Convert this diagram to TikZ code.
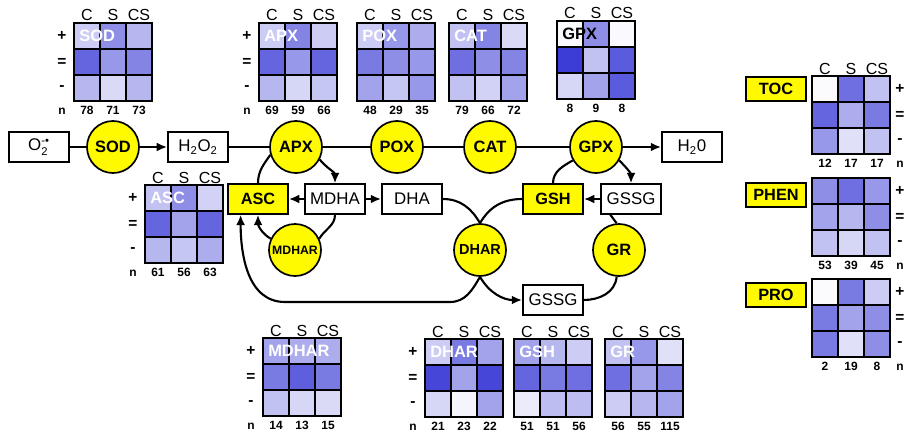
\documentclass[tikz,border=0pt]{standalone}
\usepackage{amsmath}
\usepackage{fontspec}
\setmainfont{Liberation Sans}
\usetikzlibrary{arrows.meta}
\definecolor{hm}{RGB}{50,50,212}
\definecolor{enzyel}{RGB}{255,250,0}

\newcommand{\hmap}[6][white]{%
  \foreach \v [count=\k from 0] in {#5} {%
    \pgfmathtruncatemacro{\hc}{mod(\k,3)}%
    \pgfmathtruncatemacro{\hr}{div(\k,3)}%
    \fill[hm!\v!white] ({#3+26*\hc},{-#4-26*\hr}) rectangle ++(26,-26);
  }
  \draw[line width=0.8pt] ({#3+26},-#4) -- ++(0,-78) ({#3+52},-#4) -- ++(0,-78)
    (#3,{-#4-26}) -- ++(78,0) (#3,{-#4-52}) -- ++(78,0);
  \draw[line width=1.4pt] (#3,-#4) rectangle ++(78,-78);
  \node[maptitle, text=#1, anchor=west] (#2-t) at ({#3+5},{-#4-13}) {#6};
}
\newcommand{\hcols}[3]{%
  \node[colhead] (#1-c) at ({#2+13},{-#3+2}) {C};
  \node[colhead] (#1-s) at ({#2+39},{-#3+2}) {S};
  \node[colhead] (#1-cs) at ({#2+65},{-#3+2}) {CS};
}
\newcommand{\hrows}[3]{%
  \node[rowlab] (#1-p) at (#2,{-#3-13}) {+};
  \node[rowlab] (#1-e) at (#2,{-#3-39}) {=};
  \node[rowlab] (#1-m) at (#2,{-#3-65}) {-};
  \node[numlab] (#1-n) at (#2,{-#3-91}) {n};
}
\newcommand{\hnums}[6]{%
  \node[numlab] (#1-1) at ({#2+13},{-#3-91}) {#4};
  \node[numlab] (#1-2) at ({#2+39},{-#3-91}) {#5};
  \node[numlab] (#1-3) at ({#2+65},{-#3-91}) {#6};
}

\begin{document}
\begin{tikzpicture}[x=0.025cm, y=0.025cm, >={Latex[length=2.6mm,width=2.2mm]}]
\tikzstyle{enz}=[circle, draw, line width=1.2pt, fill=enzyel, minimum size=1.3cm, inner sep=0pt, font=\bfseries\fontsize{11.7}{14}\selectfont]
\tikzstyle{met}=[draw, line width=1.2pt, fill=white, minimum width=1.5cm, minimum height=0.74cm, inner sep=0pt, font=\fontsize{12}{14}\selectfont]
\tikzstyle{antiox}=[met, fill=enzyel, font=\bfseries\fontsize{11.6}{14}\selectfont]
\tikzstyle{sidebox}=[antiox, minimum height=0.6cm]
\tikzstyle{flow}=[line width=1.5pt]
\tikzstyle{maptitle}=[inner sep=0pt, font=\bfseries\fontsize{11.7}{14}\selectfont]
\tikzstyle{colhead}=[inner sep=0pt, anchor=base, font=\fontsize{11.4}{13}\selectfont]
\tikzstyle{rowlab}=[inner sep=0pt, font=\bfseries\fontsize{11}{13}\selectfont]
\tikzstyle{numlab}=[inner sep=0pt, anchor=base, font=\bfseries\fontsize{8.5}{10}\selectfont]
\useasboundingbox (0,0) rectangle (906,-434);

\node[met] (o2) at (39,-147) {O$_{\text{2}}^{\text{-•}}$};
\node[enz] (sod) at (113,-147) {SOD};
\node[met] (h2o2) at (198,-147) {H\textsubscript{2}O\textsubscript{2}};
\node[enz] (apx) at (296,-147) {APX};
\node[enz] (pox) at (397,-147) {POX};
\node[enz] (cat) at (490,-147) {CAT};
\node[enz] (gpx) at (596,-147) {GPX};
\node[met] (h2o) at (692,-147) {H\textsubscript{2}0};
\node[antiox] (asc) at (258,-199) {ASC};
\node[met] (mdha) at (335,-199) {MDHA};
\node[met] (dha) at (412,-199) {DHA};
\node[antiox] (gsh) at (553,-199) {GSH};
\node[met] (gssg) at (631,-199) {GSSG};
\node[enz, font=\bfseries\fontsize{8.7}{10}\selectfont] (mdhar) at (295,-250) {MDHAR};
\node[enz, font=\bfseries\fontsize{10.3}{12}\selectfont] (dhar) at (480,-250) {DHAR};
\node[enz] (gr) at (619,-250) {GR};
\node[met] (gssgb) at (553,-300) {GSSG};
\coordinate (loopR) at (450,-302);
\coordinate (loopL) at (285,-302);

\draw[flow] (o2) -- (sod);
\draw[flow,->] (sod) -- (h2o2);
\draw[flow] (h2o2) -- (apx);
\draw[flow] (apx) -- (pox);
\draw[flow] (pox) -- (cat);
\draw[flow] (cat) -- (gpx);
\draw[flow,->] (gpx) -- (h2o);
\draw[flow] (apx.197) to[out=235,in=90] (asc.north);
\draw[flow,->] (apx.-28) to[out=-50,in=90] (mdha.north);
\draw[flow,->] (mdha) -- (asc);
\draw[flow,->] (mdha) -- (dha);
\draw[flow] (mdha.south) to[out=-90,in=60] (mdhar.25);
\draw[flow,->] (mdhar.155) to[out=150,in=-90] (asc.south);
\draw[flow] (dha.east) to[out=0,in=120] (dhar.north);
\draw[flow] (gsh.west) to[out=180,in=60] (dhar.north);
\draw[flow,->] (dhar.south) to[out=-120,in=0] (loopR) -- (loopL) to[out=180,in=-90] (asc.222);
\draw[flow,->] (dhar.south) to[out=-60,in=180] (gssgb.west);
\draw[flow] (gssgb.east) to[out=0,in=-95] (gr.-95);
\draw[flow] (gr.95) -- (gssg.217);
\draw[flow,->] (gssg) -- (gsh);
\draw[flow] (gsh.north) to[out=90,in=210] (gpx.210);
\draw[flow,->] (gpx.-30) to[out=-45,in=90] (gssg.north);

\hmap{sodmap}{74}{23}{25,55,35,75,50,60,35,18,35}{SOD}
\hcols{sodmap}{74}{23}
\hrows{sodmap}{62}{23}
\hnums{sodmap}{74}{23}{78}{71}{73}

\hmap{apxmap}{259}{23}{25,60,25,75,50,75,35,20,28}{APX}
\hcols{apxmap}{259}{23}
\hrows{apxmap}{247}{23}
\hnums{apxmap}{259}{23}{69}{59}{66}

\hmap{poxmap}{357}{23}{25,50,40,65,55,50,45,28,50}{POX}
\hcols{poxmap}{357}{23}
\hnums{poxmap}{357}{23}{48}{29}{35}

\hmap{catmap}{449}{23}{30,60,18,70,55,60,30,22,45}{CAT}
\hcols{catmap}{449}{23}
\hnums{catmap}{449}{23}{79}{66}{72}

\hmap[black]{gpxmap}{557}{21}{3,55,3,95,30,80,20,45,80}{GPX}
\hcols{gpxmap}{557}{21}
\hnums{gpxmap}{557}{21}{8}{9}{8}

\hmap{ascmap}{145}{185}{30,55,22,75,45,75,35,28,40}{ASC}
\hcols{ascmap}{145}{185}
\hrows{ascmap}{133}{185}
\hnums{ascmap}{145}{185}{61}{56}{63}

\hmap{mdharmap}{263}{338}{45,40,40,65,78,65,30,20,18}{MDHAR}
\hcols{mdharmap}{263}{338}
\hrows{mdharmap}{251}{338}
\hnums{mdharmap}{263}{338}{14}{13}{15}

\hmap{dharmap}{425}{339}{25,65,45,90,45,90,20,5,45}{DHAR}
\hcols{dharmap}{425}{339}
\hrows{dharmap}{413}{339}
\hnums{dharmap}{425}{339}{21}{23}{22}

\hmap{gshmap}{514}{339}{45,35,25,75,65,70,10,32,32}{GSH}
\hcols{gshmap}{514}{339}
\hnums{gshmap}{514}{339}{51}{51}{56}

\hmap{grmap}{605}{339}{30,50,15,70,45,60,25,35,45}{GR}
\hcols{grmap}{605}{339}
\hnums{grmap}{605}{339}{56}{55}{115}

\node[sidebox] (toc) at (776,-89) {TOC};
\hmap{tocmap}{812}{76}{2,70,30,75,40,65,50,15,30}{}
\hcols{tocmap}{812}{76}
\hrows{tocmap}{900}{76}
\hnums{tocmap}{812}{76}{12}{17}{17}

\node[sidebox] (phen) at (776,-195) {PHEN};
\hmap{phenmap}{812}{178}{55,70,50,45,35,55,30,20,30}{}
\hrows{phenmap}{900}{178}
\hnums{phenmap}{812}{178}{53}{39}{45}

\node[sidebox] (pro) at (776,-295) {PRO};
\hmap{promap}{812}{279}{2,65,25,65,45,55,65,15,55}{}
\hrows{promap}{900}{279}
\hnums{promap}{812}{279}{2}{19}{8}
\end{tikzpicture}
\end{document}
